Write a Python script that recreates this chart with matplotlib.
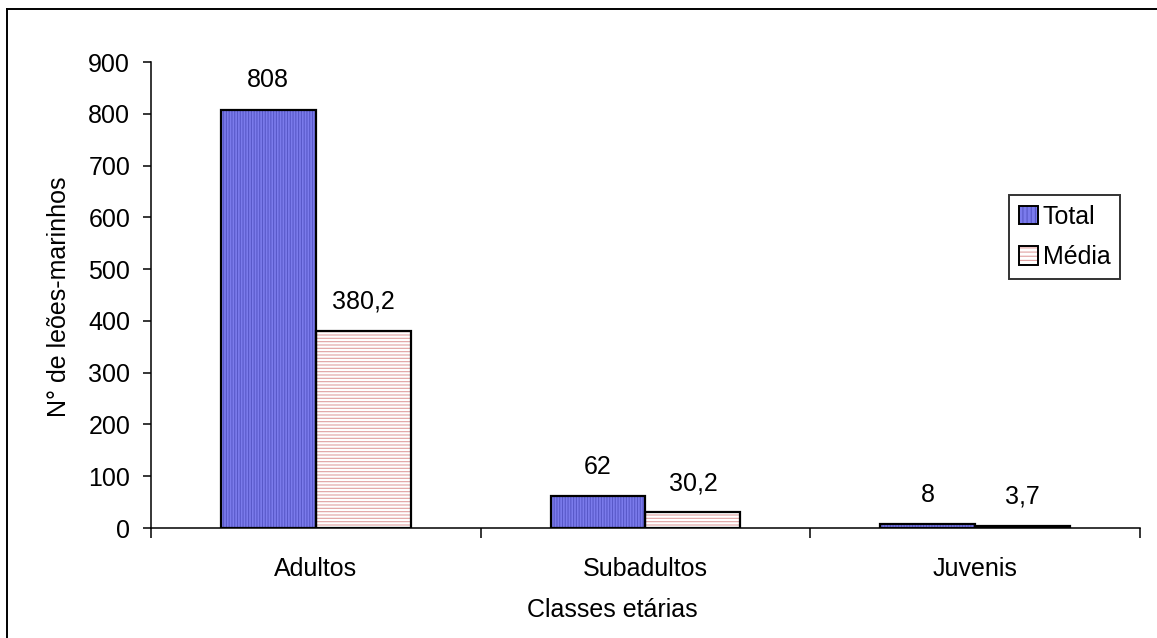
import matplotlib.pyplot as plt
from matplotlib.patches import Patch
from matplotlib.lines import Line2D

plt.rcParams['font.family'] = ['Liberation Sans', 'DejaVu Sans']
plt.rcParams['hatch.linewidth'] = 0.8

# age classes and counts
classes = ['Adultos', 'Subadultos', 'Juvenis']
total = [808, 62, 8]
media = [380.2, 30.2, 3.7]
series_names = ['Total', 'Média']

blue_face = '#7b7bec'
blue_hatch = '#5858c8'
pink_face = '#ffffff'
pink_hatch = '#e0a0a0'

fig = plt.figure(figsize=(11.57, 6.38), dpi=100)
ax = fig.add_axes([0.1305, 0.1724, 0.8548, 0.7304])

x = list(range(len(classes)))
w = 0.288

def draw_bars(xpos, vals, face, hatch_col, hatch):
    # hatched fill first, then a black outline on top
    ax.bar(xpos, vals, w, color=face, edgecolor=hatch_col, hatch=hatch,
           linewidth=0, zorder=2)
    ax.bar(xpos, vals, w, fill=False, edgecolor='black', linewidth=1.6,
           zorder=3)

x_total = [i - w / 2 for i in x]
x_media = [i + w / 2 for i in x]
draw_bars(x_total, total, blue_face, blue_hatch, '||||||')
draw_bars(x_media, media, pink_face, pink_hatch, '-----')

def fmt(v):
    return ('%g' % v).replace('.', ',')

for xs, vals in ((x_total, total), (x_media, media)):
    for xi, v in zip(xs, vals):
        ax.annotate(fmt(v), (xi, v), xytext=(0, 21), textcoords='offset points',
                    ha='center', va='center', fontsize=18)

ax.set_xlim(-0.5, 2.5)
ax.set_ylim(0, 900)
ax.set_yticks(range(0, 901, 100))
ax.tick_params(axis='y', direction='out', length=6, width=1.1, pad=9,
               labelsize=18)
ax.set_xticks([-0.5, 0.5, 1.5, 2.5])
ax.set_xticklabels([])
ax.tick_params(axis='x', which='major', direction='out', length=7, width=1.1)
ax.set_xticks(x, minor=True)
ax.set_xticklabels(classes, minor=True)
ax.tick_params(axis='x', which='minor', length=0, pad=21, labelsize=18)

for s in ['top', 'right']:
    ax.spines[s].set_visible(False)
for s in ['left', 'bottom']:
    ax.spines[s].set_linewidth(1.1)

fig.text(612 / 1157, 1 - 610 / 638, 'Classes etárias', ha='center',
         va='center', fontsize=18)
fig.text(59 / 1157, 1 - 297 / 638, 'N° de leões-marinhos', ha='center',
         va='center', rotation=90, fontsize=18)

# legend: hatched swatch with black outline
h_total = (Patch(facecolor=blue_face, edgecolor=blue_hatch, hatch='||||', linewidth=0),
           Patch(fill=False, edgecolor='black', linewidth=1.4))
h_media = (Patch(facecolor=pink_face, edgecolor=pink_hatch, hatch='----', linewidth=0),
           Patch(fill=False, edgecolor='black', linewidth=1.4))
leg = ax.legend([h_total, h_media], series_names, loc='upper left',
                bbox_to_anchor=(0.8675, 0.7146), borderaxespad=0,
                fontsize=18, frameon=True, fancybox=False, handlelength=0.75,
                handleheight=0.75, handletextpad=0.2, labelspacing=0.65,
                borderpad=0.4)
leg.get_frame().set_edgecolor('black')
leg.get_frame().set_linewidth(1.4)

# chart border (left and top edges)
fig.add_artist(Line2D([7 / 1157, 7 / 1157], [0, 1 - 9 / 638],
                      transform=fig.transFigure, color='black', linewidth=1.4))
fig.add_artist(Line2D([7 / 1157, 1], [1 - 9 / 638, 1 - 9 / 638],
                      transform=fig.transFigure, color='black', linewidth=1.4))

fig.savefig('out.png', dpi=100)
